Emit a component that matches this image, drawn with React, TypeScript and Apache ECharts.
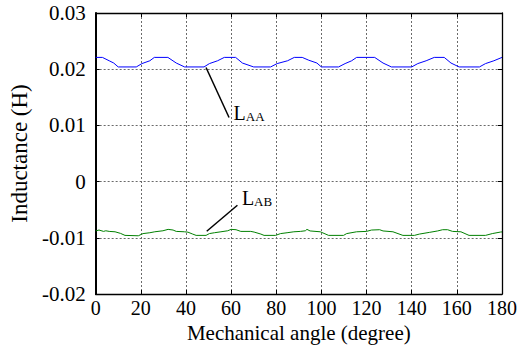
import React, { useEffect, useRef } from "react";
import * as echarts from "echarts";

const xTicks = [0, 20, 40, 60, 80, 100, 120, 140, 160, 180];
const yTickLabels = ["-0.02", "-0.01", "0", "0.01", "0.02", "0.03"];

const laaAngle = [0, 3, 6, 8, 10, 18, 20.5, 24, 26, 32, 35.7, 39.4, 48, 50.4, 54, 57, 62, 65, 70, 77.5, 80.4, 85, 88, 91.5, 94.4, 98, 100, 107.6, 110.5, 113.4, 115.6, 123.6, 127.3, 131, 140, 142.7, 146.4, 150, 154.4, 157.4, 161, 170, 172.7, 176.4, 180];
const laaValue = [0.0221, 0.0221, 0.0215, 0.0211, 0.0204, 0.0204, 0.021, 0.0215, 0.0221, 0.0221, 0.0211, 0.0204, 0.0204, 0.021, 0.0215, 0.0221, 0.0221, 0.0211, 0.0204, 0.0204, 0.021, 0.0215, 0.0221, 0.0221, 0.0216, 0.0211, 0.0204, 0.0204, 0.021, 0.0215, 0.0221, 0.0221, 0.0211, 0.0204, 0.0204, 0.021, 0.0215, 0.0221, 0.0221, 0.0211, 0.0204, 0.0204, 0.021, 0.0215, 0.0221];

const labAngle = [0, 1.5, 3.5, 4.5, 6, 8.6, 11, 13, 18.9, 21, 24, 26.2, 29.8, 32.1, 34.3, 35.7, 39.4, 40.9, 43, 44.5, 48.9, 50.4, 52.6, 55.5, 58.5, 60, 62.2, 64.3, 68.7, 70.2, 73.2, 74.6, 79.7, 81.9, 84.8, 87.8, 90.7, 92.9, 93.6, 95, 99.5, 103.2, 109.8, 111.2, 115.6, 120, 122.2, 125.8, 127.3, 131.7, 136.1, 141.2, 143.4, 147.8, 151.5, 153.7, 155.9, 158.1, 161.8, 165.4, 172.7, 175.7, 179.3, 180];
const labValue = [-0.00878, -0.00862, -0.00886, -0.00875, -0.00886, -0.00893, -0.00921, -0.00957, -0.00964, -0.00925, -0.0091, -0.00893, -0.00875, -0.0085, -0.00862, -0.00886, -0.00893, -0.009, -0.00934, -0.00957, -0.00957, -0.00925, -0.0091, -0.00893, -0.00875, -0.0085, -0.00856, -0.00886, -0.00886, -0.00898, -0.00934, -0.00957, -0.00957, -0.00925, -0.0091, -0.00893, -0.00886, -0.00875, -0.0085, -0.00878, -0.00893, -0.00957, -0.00957, -0.00925, -0.00893, -0.00886, -0.00862, -0.00856, -0.00878, -0.00893, -0.00957, -0.00957, -0.00934, -0.00904, -0.00878, -0.00856, -0.00856, -0.00886, -0.00893, -0.00957, -0.00957, -0.00925, -0.00898, -0.00895];

// annotation leader lines (data coordinates)
const laaLeader = [[48.9, 0.0203], [59.1, 0.0114]];
const labLeader = [[49.2, -0.00884], [62.8, -0.0042]];

const FONT = "Liberation Serif";

export default function App() {
  const ref = useRef<HTMLDivElement>(null);
  useEffect(() => {
    if (!ref.current) return;
    const chart = echarts.init(ref.current, undefined, { renderer: "svg" });
    const yFmt = (v: number) => {
      const idx = Math.round((v + 0.02) / 0.01);
      return yTickLabels[idx] ?? "";
    };
    const gridLine = { show: true, lineStyle: { color: "#6a6a6a", type: [2, 2] as any, width: 1 } };
    const rich = {
      l: { fontFamily: FONT, fontSize: 20, color: "#000", verticalAlign: "bottom" as const, lineHeight: 22 },
      s: { fontFamily: FONT, fontSize: 13, color: "#000", verticalAlign: "bottom" as const, lineHeight: 19 },
    };
    const labelPoint = (coord: number[], sub: string, offset: number[]) => ({
      coord,
      symbol: "circle",
      symbolSize: 1,
      itemStyle: { color: "rgba(0,0,0,0)" },
      label: {
        show: true,
        position: "right",
        distance: 4,
        offset,
        fontFamily: FONT,
        formatter: `{l|L}{s|${sub}}`,
        rich,
      },
    });
    chart.setOption({
      animation: false,
      textStyle: { fontFamily: FONT },
      grid: { left: 92, top: 13, width: 410, height: 281, show: false },
      xAxis: [
        {
          type: "value",
          min: 0,
          max: 180,
          interval: 20,
          position: "bottom",
          name: "Mechanical angle (degree)",
          nameLocation: "middle",
          nameGap: 21,
          nameTextStyle: { fontFamily: FONT, fontSize: 21, color: "#000" },
          axisLine: { show: true, onZero: false, lineStyle: { color: "#000", width: 1.3 } },
          axisTick: { show: true, inside: true, length: 4, lineStyle: { color: "#000" } },
          axisLabel: {
            fontFamily: FONT, fontSize: 20, color: "#000", margin: 4,
            formatter: (v: number) => String(xTicks[Math.round(v / 20)] ?? ""),
          },
          splitLine: gridLine,
        },
        {
          type: "value",
          min: 0,
          max: 180,
          interval: 20,
          position: "top",
          axisLine: { show: true, onZero: false, lineStyle: { color: "#000", width: 1.3 } },
          axisTick: { show: true, inside: true, length: 4, lineStyle: { color: "#000" } },
          axisLabel: { show: false },
          splitLine: { show: false },
        },
      ],
      yAxis: [
        {
          type: "value",
          min: -0.02,
          max: 0.03,
          interval: 0.01,
          position: "left",
          name: "Inductance (H)",
          nameLocation: "middle",
          nameGap: 58,
          nameTextStyle: { fontFamily: FONT, fontSize: 23, color: "#000" },
          axisLine: { show: true, onZero: false, lineStyle: { color: "#000", width: 2 } },
          axisTick: { show: true, inside: true, length: 4, lineStyle: { color: "#000" } },
          axisLabel: { fontFamily: FONT, fontSize: 21, color: "#000", margin: 10, formatter: yFmt },
          splitLine: gridLine,
        },
        {
          type: "value",
          min: -0.02,
          max: 0.03,
          interval: 0.01,
          position: "right",
          axisLine: { show: true, onZero: false, lineStyle: { color: "#000", width: 1.3 } },
          axisTick: { show: true, inside: true, length: 4, lineStyle: { color: "#000" } },
          axisLabel: { show: false },
          splitLine: { show: false },
        },
      ],
      series: [
        {
          name: "LAA",
          type: "line",
          xAxisIndex: 0,
          yAxisIndex: 0,
          showSymbol: false,
          symbol: "none",
          lineStyle: { color: "#0000ff", width: 1 },
          data: laaAngle.map((a, i) => [a, laaValue[i]]),
          markLine: {
            silent: true,
            symbol: ["none", "none"],
            label: { show: false },
            lineStyle: { color: "#000", width: 1.5, type: "solid" },
            data: [[{ coord: laaLeader[0] }, { coord: laaLeader[1] }]],
          },
          markPoint: {
            silent: true,
            data: [labelPoint(laaLeader[1], "AA", [0, -6])],
          },
        },
        {
          name: "LAB",
          type: "line",
          xAxisIndex: 0,
          yAxisIndex: 0,
          showSymbol: false,
          symbol: "none",
          lineStyle: { color: "#008000", width: 1 },
          data: labAngle.map((a, i) => [a, labValue[i]]),
          markLine: {
            silent: true,
            symbol: ["none", "none"],
            label: { show: false },
            lineStyle: { color: "#000", width: 1.5, type: "solid" },
            data: [[{ coord: labLeader[0] }, { coord: labLeader[1] }]],
          },
          markPoint: {
            silent: true,
            data: [labelPoint(labLeader[1], "AB", [0, -8])],
          },
        },
      ],
    });
    return () => chart.dispose();
  }, []);
  return <div ref={ref} style={{ width: 521, height: 349, position: "absolute", left: 0, top: 0 }} />;
}
